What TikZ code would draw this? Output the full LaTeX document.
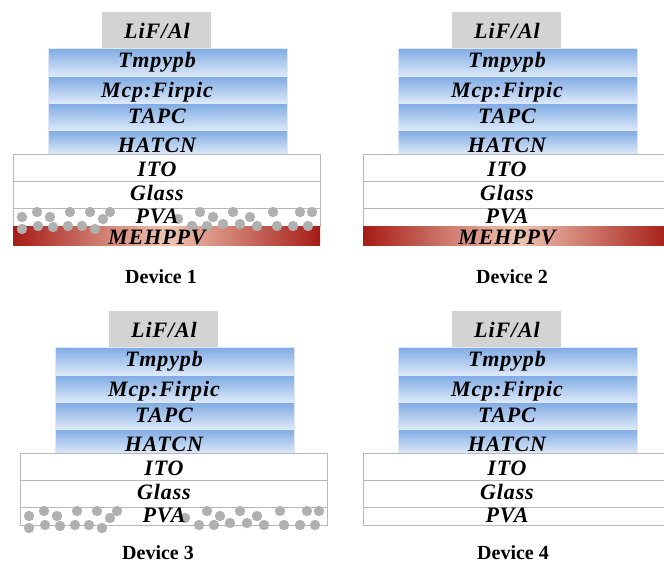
\documentclass[tikz,border=0pt]{standalone}
\usepackage{fontspec}
\setmainfont{Liberation Serif}
\newfontfamily\layerfont[LetterSpace=4]{Liberation Serif}
\usetikzlibrary{positioning}
\definecolor{lifgray}{HTML}{D3D3D3}
\definecolor{layerblue}{HTML}{7EAAE4}
\definecolor{layerpale}{HTML}{DDE9F8}
\definecolor{mehred}{HTML}{A61C17}
\definecolor{mehpale}{HTML}{F0C6B4}
\definecolor{subline}{HTML}{B8B8B8}
\definecolor{dotgray}{HTML}{B0B0B0}

\tikzset{
	layertext/.style={font=\layerfont\bfseries\itshape\fontsize{22}{22}\selectfont, anchor=base, inner sep=0pt}
}
\tikzset{
	devicetext/.style={font=\bfseries\fontsize{20}{20}\selectfont, inner sep=0pt}
}
\tikzset{
	bluelayer/.style={top color=layerblue, bottom color=layerpale, draw=layerpale, line width=0.6pt}
}
\tikzset{
	sublayer/.style={fill=white, draw=subline, line width=0.8pt}
}
\tikzset{
	stackbase/.pic={
			\fill[lifgray] (89,-142) rectangle (198,-106);
			\draw[bluelayer] (35,-106) rectangle (274,-78);
			\draw[bluelayer] (35,-78) rectangle (274,-51);
			\draw[bluelayer] (35,-51) rectangle (274,-24);
			\draw[bluelayer] (35,-24) rectangle (274,0);
			\draw[sublayer] (0,0) rectangle (307,27);
			\draw[sublayer] (0,27) rectangle (307,54);
			\draw[sublayer] (0,54) rectangle (307,72);
		}
}
\tikzset{
	mehlayer/.pic={
			\shade[left color=mehred, right color=mehred, middle color=mehpale] (0,72) rectangle (307,91);
		}
}
\tikzset{
	pvadots/.pic={
			\foreach \dx/\dy in {9/63, 24/58, 37/63, 57/58, 77/58, 90/65, 97/58,
					165/65, 187/58, 200/63, 220/58, 237/63, 260/58, 287/58, 299/58,
					9/75, 25/72, 40/73, 55/72, 69/72, 82/75,
					179/72, 194/72, 210/70, 227/70, 244/72, 264/72, 280/72, 295/72}
				\fill[dotgray] (\dx,\dy) circle (5.2);
		}
}
\tikzset{
	stacklabels/.pic={
			\node[layertext] (-lif) at (144,-116) {LiF/Al};
			\node[layertext] (-tmp) at (144,-87) {Tmpypb};
			\node[layertext] (-mcp) at (144,-57) {Mcp:Firpic};
			\node[layertext] (-tapc) at (144,-31) {TAPC};
			\node[layertext] (-hat) at (144,-2) {HATCN};
			\node[layertext] (-ito) at (144,22) {ITO};
			\node[layertext] (-glass) at (144,46) {Glass};
			\node[layertext] (-pva) at (144,69) {PVA};
		}
}
\tikzset{
	mehlabel/.pic={
			\node[layertext] (-meh) at (144,90) {MEHPPV};
		}
}

\begin{document}
\begin{tikzpicture}[x=1pt, y=-1pt]
\useasboundingbox (0,0) rectangle (664,565);

\coordinate (sA) at (13,154);
\coordinate (sB) at (363,154);
\coordinate (sC) at (20,453);
\coordinate (sD) at (363,453);

% device 1
\pic at (sA) {stackbase};
\pic at (sA) {mehlayer};
\pic at (sA) {pvadots};
\pic (dA) at (sA) {stacklabels};
\pic (dA) at (sA) {mehlabel};

% device 2
\pic at (sB) {stackbase};
\pic at (sB) {mehlayer};
\pic (dB) at (sB) {stacklabels};
\pic (dB) at (sB) {mehlabel};

% device 3
\pic at (sC) {stackbase};
\pic at (sC) {pvadots};
\pic (dC) at (sC) {stacklabels};

% device 4
\pic at (sD) {stackbase};
\pic (dD) at (sD) {stacklabels};

\node[devicetext] (devA) at (161,277) {Device 1};
\node[devicetext] (devB) at (512,277) {Device 2};
\node[devicetext] (devC) at (158,553) {Device 3};
\node[devicetext] (devD) at (513,553) {Device 4};

\end{tikzpicture}
\end{document}
